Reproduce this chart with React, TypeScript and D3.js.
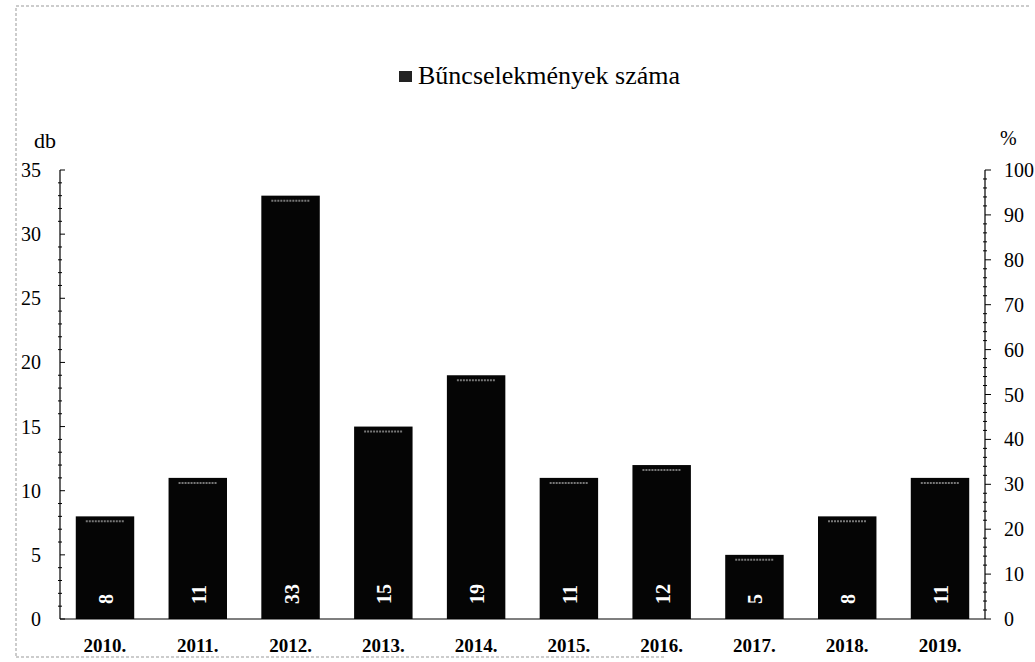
import * as d3 from "d3";
import React, { RefObject, useEffect, useRef } from "react";

const years = ["2010.", "2011.", "2012.", "2013.", "2014.", "2015.", "2016.", "2017.", "2018.", "2019."];
const crimes = [8, 11, 33, 15, 19, 11, 12, 5, 8, 11];
const leftTicks = [0, 5, 10, 15, 20, 25, 30, 35];
const rightTicks = [0, 10, 20, 30, 40, 50, 60, 70, 80, 90, 100];
const legendLabel = "Bűncselekmények száma";

const W = 1035;
const H = 662;
const FONT = '"Liberation Serif", "Times New Roman", Times, serif';

const App = () => {
  const d3Ref: RefObject<HTMLDivElement> = useRef(null);

  const drawChart = () => {
    const root = d3.select(d3Ref.current);
    root.selectAll("*").remove();
    const svg = root
      .append("svg")
      .attr("width", W)
      .attr("height", H)
      .style("font-family", FONT)
      .style("display", "block");

    svg.append("rect").attr("width", W).attr("height", H).attr("fill", "#fff");

    // dotted frame
    svg
      .append("path")
      .attr("d", `M16,656 L16,6 L1030,6 M16,657 L665,657`)
      .attr("fill", "none")
      .attr("stroke", "#999")
      .attr("stroke-width", 1)
      .attr("stroke-dasharray", "3,2");

    const left = 60;
    const right = 985;
    const top = 170;
    const bottom = 619;

    const x = d3.scaleBand().domain(years).range([left, right]).paddingInner(0.37).paddingOuter(0.17);
    const y = d3.scaleLinear().domain([0, 35]).range([bottom, top]);
    const y2 = d3.scaleLinear().domain([0, 100]).range([bottom, top]);

    // bars
    const bars = svg.append("g");
    bars
      .selectAll("rect")
      .data(crimes)
      .enter()
      .append("rect")
      .attr("x", (d, i) => x(years[i]) as number)
      .attr("y", (d) => y(d))
      .attr("width", x.bandwidth())
      .attr("height", (d) => bottom - y(d))
      .attr("fill", "#050505");
    bars
      .selectAll("line.top")
      .data(crimes)
      .enter()
      .append("line")
      .attr("x1", (d, i) => (x(years[i]) as number) + 10)
      .attr("x2", (d, i) => (x(years[i]) as number) + x.bandwidth() - 10)
      .attr("y1", (d) => y(d) + 5)
      .attr("y2", (d) => y(d) + 5)
      .attr("stroke", "#777")
      .attr("stroke-width", 2)
      .attr("stroke-dasharray", "2,1");

    // value labels (rotated)
    bars
      .selectAll("text")
      .data(crimes)
      .enter()
      .append("text")
      .attr("transform", (d, i) => `translate(${(x(years[i]) as number) + x.bandwidth() / 2 + 8},${bottom - 15}) rotate(-90)`)
      .attr("text-anchor", "start")
      .attr("fill", "#fff")
      .style("font-family", FONT)
      .attr("font-weight", "bold")
      .attr("font-size", 20)
      .text((d) => String(d));

    // left axis
    const gl = svg.append("g").attr("stroke", "#000");
    gl.append("line").attr("x1", left).attr("x2", left).attr("y1", top).attr("y2", bottom).attr("stroke-width", 1.2);
    d3.range(0, 36).forEach((v) => {
      const major = v % 5 === 0;
      gl.append("line")
        .attr("x1", left - (major ? 0 : 2))
        .attr("x2", left + (major ? 5 : 2))
        .attr("y1", y(v))
        .attr("y2", y(v))
        .attr("stroke-width", 1);
    });
    svg
      .selectAll("text.lt")
      .data(leftTicks)
      .enter()
      .append("text")
      .attr("x", 41)
      .attr("y", (d) => y(d) + 7)
      .attr("text-anchor", "end")
      .style("font-family", FONT)
      .attr("font-size", 20)
      .attr("fill", "#000")
      .text((d) => String(d));

    // right axis
    const gr = svg.append("g").attr("stroke", "#000");
    gr.append("line").attr("x1", right).attr("x2", right).attr("y1", top).attr("y2", bottom).attr("stroke-width", 1.2);
    d3.range(0, 101, 2).forEach((v) => {
      const major = v % 10 === 0;
      gr.append("line")
        .attr("x1", right - (major ? 0 : 2))
        .attr("x2", right + (major ? 6 : 2))
        .attr("y1", y2(v))
        .attr("y2", y2(v))
        .attr("stroke-width", 1);
    });
    svg
      .selectAll("text.rt")
      .data(rightTicks)
      .enter()
      .append("text")
      .attr("x", 1004)
      .attr("y", (d) => y2(d) + 7)
      .attr("text-anchor", "start")
      .style("font-family", FONT)
      .attr("font-size", 20)
      .attr("fill", "#000")
      .text((d) => String(d));

    // bottom axis
    svg
      .append("line")
      .attr("x1", left)
      .attr("x2", right)
      .attr("y1", bottom)
      .attr("y2", bottom)
      .attr("stroke", "#000")
      .attr("stroke-width", 1.2);
    svg
      .selectAll("text.xt")
      .data(years)
      .enter()
      .append("text")
      .attr("x", (d) => (x(d) as number) + x.bandwidth() / 2)
      .attr("y", 652)
      .attr("text-anchor", "middle")
      .style("font-family", FONT)
      .attr("font-size", 19)
      .attr("font-weight", "bold")
      .attr("fill", "#000")
      .text((d) => d);

    // axis titles
    svg.append("text").attr("x", 34).attr("y", 148).style("font-family", FONT).attr("font-size", 22).text("db");
    svg.append("text").attr("x", 1000).attr("y", 145).style("font-family", FONT).attr("font-size", 20).text("%");

    // legend
    svg.append("rect").attr("x", 399).attr("y", 71).attr("width", 13).attr("height", 11).attr("fill", "#222");
    svg
      .append("text")
      .attr("x", 418)
      .attr("y", 84)
      .style("font-family", FONT)
      .attr("font-size", 26)
      .attr("fill", "#000")
      .text(legendLabel);
  };

  useEffect(() => {
    drawChart();
  }, [d3Ref]);

  return <div ref={d3Ref} style={{ position: "fixed", left: 0, top: 0 }} />;
};

export default App;
